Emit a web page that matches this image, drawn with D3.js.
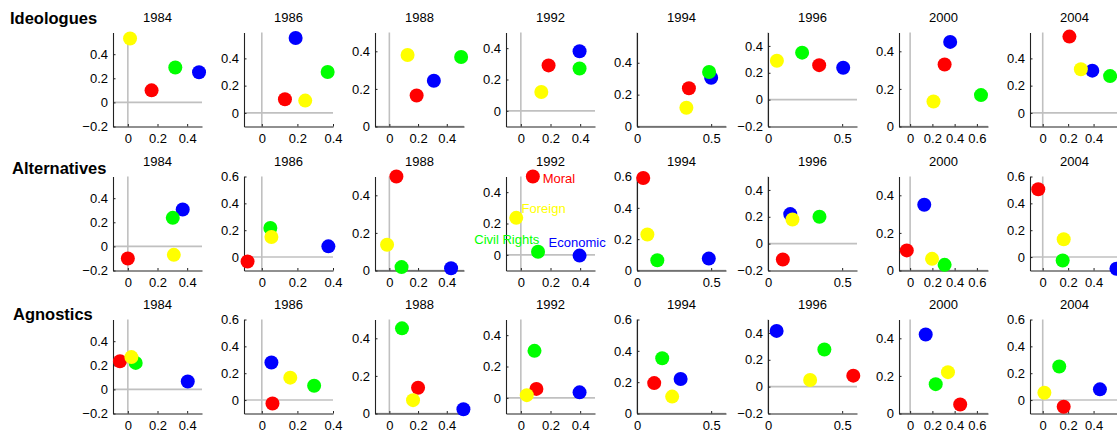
<!DOCTYPE html>
<html><head><meta charset="utf-8">
<script src="https://cdn.jsdelivr.net/npm/d3@7"></script>
<style>
html,body{margin:0;padding:0;background:#fff;}
svg{display:block;font-family:"Liberation Sans",Arial,Helvetica,sans-serif;}
</style></head>
<body><svg id="c" width="1117" height="433"></svg>
<script>
// ---------------- data ----------------
const groups = ["Ideologues", "Alternatives", "Agnostics"];
const years = [1984, 1986, 1988, 1992, 1994, 1996, 2000, 2004];
const issues = ["Moral", "Economic", "Civil Rights", "Foreign"];

// x axis limits and ticks per year (shared by all groups)
const xLimits = [[-0.1,0.5],[-0.1,0.4],[-0.1,0.52],[-0.1,0.5],[0,0.6],[0,0.6],[-0.1,0.7],[-0.1,0.6]];
const xTicks  = [[0,0.2,0.4],[0,0.2,0.4],[0,0.2,0.4],[0,0.2,0.4],[0,0.5],[0,0.5],[0,0.2,0.4,0.6],[0,0.2,0.4]];

// y axis limits per group and year
const yLimitsIdeologues   = [[-0.2,0.58],[-0.1,0.59],[0,0.5],[-0.1,0.5],[0,0.59],[-0.2,0.5],[0,0.5],[-0.1,0.59]];
const yLimitsAlternatives = [[-0.2,0.58],[-0.1,0.6],[0,0.5],[-0.1,0.5],[0,0.6],[-0.2,0.5],[0,0.5],[-0.1,0.6]];
const yLimitsAgnostics    = [[-0.2,0.58],[-0.1,0.6],[0,0.5],[-0.1,0.5],[0,0.6],[-0.2,0.5],[0,0.5],[-0.1,0.6]];

// [x, y] per year, one array per group and issue
const ideologuesMoral    = [[0.16,0.10],[0.13,0.10],[0.19,0.165],[0.187,0.29],[0.35,0.24],[0.345,0.257],[0.31,0.33],[0.21,0.56]];
const ideologuesEconomic = [[0.48,0.25],[0.19,0.55],[0.31,0.243],[0.396,0.38],[0.50,0.306],[0.507,0.237],[0.36,0.45],[0.39,0.31]];
const ideologuesCivil    = [[0.32,0.29],[0.37,0.30],[0.50,0.37],[0.396,0.27],[0.486,0.342],[0.23,0.35],[0.637,0.167],[0.53,0.27]];
const ideologuesForeign  = [[0.015,0.53],[0.244,0.09],[0.127,0.38],[0.138,0.12],[0.333,0.118],[0.06,0.29],[0.21,0.133],[0.30,0.32]];

const alternativesMoral    = [[0.0,-0.10],[-0.08,-0.033],[0.049,0.50],[0.081,0.50],[0.042,0.59],[0.10,-0.118],[-0.03,0.107],[-0.035,0.505]];
const alternativesEconomic = [[0.37,0.306],[0.374,0.08],[0.43,0.012],[0.396,-0.005],[0.484,0.076],[0.15,0.22],[0.127,0.35],[0.58,-0.087]];
const alternativesCivil    = [[0.303,0.237],[0.048,0.216],[0.085,0.018],[0.116,0.02],[0.137,0.065],[0.347,0.20],[0.31,0.03],[0.157,-0.025]];
const alternativesForeign  = [[0.31,-0.07],[0.054,0.15],[-0.016,0.137],[-0.031,0.236],[0.07,0.23],[0.165,0.18],[0.197,0.062],[0.165,0.133]];

const agnosticsMoral    = [[-0.053,0.234],[0.06,-0.025],[0.20,0.137],[0.105,0.057],[0.116,0.194],[0.575,0.082],[0.45,0.048],[0.165,-0.05]];
const agnosticsEconomic = [[0.404,0.066],[0.054,0.28],[0.516,0.023],[0.396,0.035],[0.294,0.22],[0.058,0.415],[0.14,0.42],[0.45,0.08]];
const agnosticsCivil    = [[0.053,0.22],[0.294,0.107],[0.088,0.453],[0.092,0.30],[0.17,0.353],[0.38,0.277],[0.23,0.156],[0.13,0.25]];
const agnosticsForeign  = [[0.024,0.268],[0.16,0.167],[0.165,0.071],[0.04,0.017],[0.237,0.108],[0.284,0.05],[0.34,0.22],[0.013,0.055]];

// text labels (data coordinates) drawn in the Alternatives 1992 panel
const labelAt = [[0.147,0.488],[0.187,0.08],[-0.314,0.096],[0.005,0.294]];

// ---------------- assembly ----------------
const yLimits = [yLimitsIdeologues, yLimitsAlternatives, yLimitsAgnostics];
const series = [
  [ideologuesMoral, ideologuesEconomic, ideologuesCivil, ideologuesForeign],
  [alternativesMoral, alternativesEconomic, alternativesCivil, alternativesForeign],
  [agnosticsMoral, agnosticsEconomic, agnosticsCivil, agnosticsForeign]
];
const colors = {"Moral":"#ff0000","Economic":"#0000ff","Civil Rights":"#00ff00","Foreign":"#ffff00"};
const drawOrder = [0, 1, 2, 3];

// ---------------- layout ----------------
const svg = d3.select("#c");
const panelLeft0 = 113, panelStep = 131, panelW = 89;
const rowTop = [32.5, 176.5, 319.5], panelH = 94;
const labelX = [10, 12, 13], labelBase = [24, 173.5, 320];
const fmt = v => (v < 0 ? "\u2212" : "") + String(Math.abs(+v.toFixed(2)));

groups.forEach((g, r) => {
  svg.append("text").attr("x", labelX[r]).attr("y", labelBase[r])
    .attr("font-size", 16.5).attr("font-weight", "bold").attr("fill", "#000").text(g);

  years.forEach((yr, c) => {
    const left = panelLeft0 + panelStep * c, top = rowTop[r];
    const x = d3.scaleLinear().domain(xLimits[c]).range([left, left + panelW]);
    const y = d3.scaleLinear().domain(yLimits[r][c]).range([top + panelH, top]);
    const p = svg.append("g");

    // title
    p.append("text").attr("x", left + panelW / 2).attr("y", top - 10.5)
      .attr("text-anchor", "middle").attr("font-size", 13).attr("fill", "#000").text(yr);

    // zero reference lines
    p.append("line").attr("x1", x(0)).attr("x2", x(0)).attr("y1", y.range()[0]).attr("y2", y.range()[1])
      .attr("stroke", "#c0c0c0").attr("stroke-width", 1.6);
    p.append("line").attr("x1", x.range()[0]).attr("x2", x.range()[1]).attr("y1", y(0)).attr("y2", y(0))
      .attr("stroke", "#c0c0c0").attr("stroke-width", 1.6);

    // axes
    const yt = d3.range(Math.ceil(yLimits[r][c][0] / 0.2 - 1e-9), Math.floor(yLimits[r][c][1] / 0.2 + 1e-9) + 1).map(k => +(k * 0.2).toFixed(2));
    const xAxis = d3.axisBottom(x).tickValues(xTicks[c]).tickFormat(fmt).tickSizeInner(-2.5).tickSizeOuter(0).tickPadding(7.5);
    const yAxis = d3.axisLeft(y).tickValues(yt).tickFormat(fmt).tickSizeInner(-2.5).tickSizeOuter(0).tickPadding(5);
    const gx = p.append("g").attr("transform", `translate(0,${top + panelH})`).call(xAxis);
    const gy = p.append("g").attr("transform", `translate(${left},0)`).call(yAxis);
    [gx, gy].forEach(a => {
      a.select(".domain").attr("stroke", "#222").attr("stroke-width", 1.1);
      a.selectAll(".tick line").attr("stroke", "#222");
      a.selectAll(".tick text").attr("font-size", 13).attr("fill", "#000")
        .attr("font-family", "'Liberation Sans',Arial,Helvetica,sans-serif");
    });

    // points
    drawOrder.forEach(k => {
      const d = series[r][k][c];
      p.append("circle").attr("cx", x(d[0])).attr("cy", y(d[1])).attr("r", 7)
        .attr("fill", colors[issues[k]]);
    });

    // issue labels in Alternatives 1992
    if (r === 1 && yr === 1992) {
      issues.forEach((iss, k) => {
        p.append("text").attr("x", x(labelAt[k][0])).attr("y", y(labelAt[k][1]))
          .attr("dy", "0.35em").attr("font-size", 13).attr("fill", colors[iss]).text(iss);
      });
    }
  });
});
</script></body></html>
